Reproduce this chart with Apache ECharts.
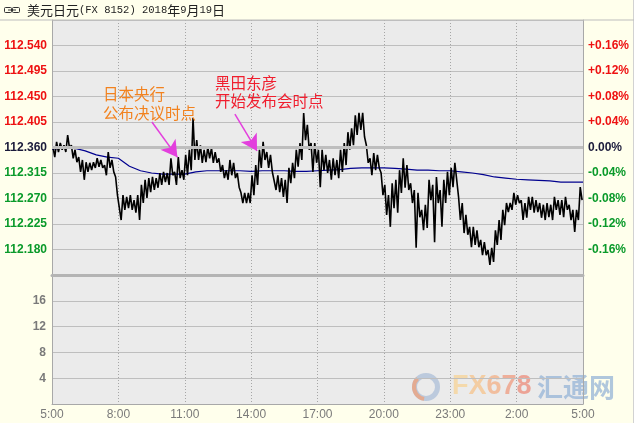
<!DOCTYPE html>
<html>
<head>
<meta charset="utf-8">
<script src="https://cdn.jsdelivr.net/npm/echarts@6/dist/echarts.min.js"></script>
<style>
html,body{margin:0;padding:0;background:#FFFFEC;}
#c{width:634px;height:423px;}
</style>
</head>
<body>
<div id="c"></div>
<script>
// ---- data (USD/JPY, 2018-09-19, 10-minute bins from 5:00) ----
const BASE_PRICE = 112.360;
const priceHigh = [
 112.361,112.370,112.368,112.364,112.382,112.364,112.356,112.343,112.338,112.334,
 112.333,112.334,112.341,112.338,112.329,112.352,112.338,112.308,112.276,112.276,
 112.273,112.276,112.267,112.276,112.294,112.303,112.306,112.308,112.306,112.315,
 112.317,112.315,112.341,112.317,112.343,112.320,112.347,112.356,112.412,112.373,
 112.364,112.356,112.361,112.359,112.352,112.341,112.329,112.320,112.338,112.333,
 112.315,112.280,112.280,112.280,112.311,112.329,112.356,112.370,112.352,112.347,
 112.317,112.311,112.306,112.303,112.324,112.333,112.356,112.368,112.421,112.400,
 112.368,112.368,112.356,112.356,112.347,112.338,112.341,112.338,112.356,112.368,
 112.387,112.394,112.417,112.421,112.421,112.364,112.341,112.350,112.347,112.315,
 112.294,112.276,112.297,112.303,112.320,112.341,112.329,112.297,112.285,112.280,
 112.250,112.259,112.303,112.294,112.308,112.285,112.303,112.317,112.324,112.333,
 112.273,112.262,112.241,112.220,112.220,112.214,112.197,112.193,112.179,112.183,
 112.214,112.232,112.250,112.262,112.262,112.280,112.276,112.267,112.262,112.273,
 112.273,112.267,112.262,112.259,112.262,112.259,112.273,112.267,112.267,112.273,
 112.259,112.250,112.250,112.290
];
const priceLow = [
 112.343,112.352,112.356,112.352,112.359,112.341,112.334,112.317,112.303,112.317,
 112.320,112.324,112.326,112.324,112.311,112.324,112.317,112.276,112.232,112.250,
 112.253,112.250,112.245,112.232,112.262,112.271,112.281,112.285,112.289,112.294,
 112.299,112.294,112.311,112.294,112.306,112.303,112.311,112.320,112.338,112.338,
 112.333,112.334,112.341,112.333,112.333,112.317,112.306,112.303,112.311,112.306,
 112.290,112.262,112.262,112.262,112.276,112.294,112.324,112.338,112.324,112.317,
 112.285,112.281,112.273,112.262,112.297,112.306,112.326,112.338,112.373,112.356,
 112.317,112.333,112.290,112.320,112.315,112.303,112.311,112.306,112.317,112.329,
 112.356,112.364,112.382,112.391,112.379,112.333,112.311,112.320,112.324,112.276,
 112.241,112.220,112.253,112.245,112.280,112.289,112.285,112.262,112.183,112.237,
 112.214,112.218,112.267,112.193,112.262,112.220,112.262,112.276,112.290,112.303,
 112.232,112.209,112.206,112.184,112.188,112.184,112.170,112.170,112.153,112.158,
 112.188,112.197,112.223,112.246,112.250,112.259,112.262,112.232,112.236,112.250,
 112.245,112.246,112.236,112.232,112.237,112.232,112.250,112.241,112.237,112.250,
 112.232,112.211,112.232,112.267
];
// average price every 30 minutes
const avgPrice = [
 112.357,112.359,112.359,112.354,112.347,112.343,112.341,112.327,112.319,112.315,
 112.313,112.313,112.313,112.317,112.319,112.319,112.319,112.319,112.318,112.319,
 112.319,112.319,112.318,112.318,112.319,112.320,112.321,112.323,112.324,112.324,
 112.324,112.323,112.322,112.320,112.320,112.319,112.319,112.317,112.315,112.312,
 112.308,112.306,112.304,112.303,112.302,112.301,112.299,112.299,112.299
];
const xTickLabels = ['5:00','8:00','11:00','14:00','17:00','20:00','23:00','2:00','5:00'];
const volumeTicks = [0,4,8,12,16,20];
const headerTitle = ['美元日元','(FX 8152) 2018','年','9','月','19','日'];
const noteBoj = '日本央行\n公布决议时点';
const noteKuroda = '黑田东彦\n开始发布会时点';
// annotation arrows: [startMinute, startPrice, endMinute, endPrice]
const arrowBoj = [271, 112.405, 340, 112.343];
const arrowKuroda = [496, 112.419, 556, 112.354];

// ---- helpers ----
const BIN = 10, AVG_STEP = 30;
const toAxis = p => Math.round((p - BASE_PRICE) * 1000);
const priceLine = [];
priceHigh.forEach((h, i) => {
  priceLine.push([i * BIN + 2.5, toAxis(h)]);
  priceLine.push([i * BIN + 7.5, toAxis(priceLow[i])]);
});
const avgLine = avgPrice.map((p, i) => [i * AVG_STEP, toAxis(p)]);

const RED = '#EE1111', GREEN = '#0A9A2A', DARK = '#1A1A3A';
const valColor = v => { v = Number(v); return v > 0 ? RED : (v < 0 ? GREEN : DARK); };
const LBL_FONT = 'Liberation Sans';

const chart = echarts.init(document.getElementById('c'), null, {renderer: 'canvas'});
const dotted = {show: true, lineStyle: {color: '#A6A6A6', type: [1, 2], width: 1}};
const wm = c => ({fontSize: 27, fontWeight: 'bold', fontFamily: LBL_FONT, fill: c});

const option = {
  backgroundColor: '#FFFFEC',
  animation: false,
  grid: [
    {left: 52, top: 20, width: 531, height: 255, show: true, backgroundColor: '#EBEBEB', borderWidth: 0},
    {left: 52, top: 275, width: 531, height: 129, show: true, backgroundColor: '#EBEBEB', borderWidth: 0}
  ],
  xAxis: [
    {gridIndex: 0, type: 'value', min: 0, max: 1440, interval: 180,
     axisLabel: {show: false}, axisTick: {show: false},
     axisLine: {show: true, onZero: false, lineStyle: {color: '#B4B4B4', width: 3}},
     splitLine: dotted},
    {gridIndex: 1, type: 'value', min: 0, max: 1440, interval: 180,
     axisTick: {show: false},
     axisLine: {show: true, onZero: false, lineStyle: {color: '#A8A8A8', width: 1}},
     axisLabel: {formatter: v => xTickLabels[Math.round(v / 180)], color: '#7A7A7A', fontSize: 12,
                 fontFamily: LBL_FONT, margin: 5, showMinLabel: true, showMaxLabel: true},
     splitLine: dotted}
  ],
  yAxis: [
    {gridIndex: 0, type: 'value', min: -225, max: 225, interval: 45, position: 'left',
     axisLine: {show: true, onZero: false, lineStyle: {color: '#A8A8A8'}}, axisTick: {show: false},
     axisLabel: {formatter: v => ((BASE_PRICE * 1000 + v) / 1000).toFixed(3), color: valColor,
                 fontWeight: 'bold', fontSize: 12, fontFamily: LBL_FONT, margin: 5,
                 showMinLabel: false, showMaxLabel: false},
     splitLine: {show: true, lineStyle: {color: '#BEBEBE', width: 1}}},
    {gridIndex: 0, type: 'value', min: -225, max: 225, interval: 45, position: 'right',
     axisLine: {show: true, onZero: false, lineStyle: {color: '#A8A8A8'}}, axisTick: {show: false},
     axisLabel: {formatter: v => {
                   const pct = (v / 1000) / BASE_PRICE * 100;
                   return v === 0 ? '0.00%' : (v > 0 ? '+' : '') + pct.toFixed(2) + '%';
                 }, color: valColor, fontWeight: 'bold', fontSize: 12, fontFamily: LBL_FONT, margin: 5,
                 showMinLabel: false, showMaxLabel: false},
     splitLine: {show: false}},
    {gridIndex: 1, type: 'value', min: volumeTicks[0], max: volumeTicks[volumeTicks.length - 1], interval: 4,
     position: 'left',
     axisLine: {show: true, onZero: false, lineStyle: {color: '#A8A8A8'}}, axisTick: {show: false},
     axisLabel: {color: '#7A7A7A', fontWeight: 'bold', fontSize: 12, fontFamily: LBL_FONT, margin: 6,
                 showMinLabel: false, showMaxLabel: false},
     splitLine: {show: true, lineStyle: {color: '#BEBEBE', width: 1}}},
    {gridIndex: 1, type: 'value', min: 0, max: 20, interval: 4, position: 'right',
     axisLine: {show: true, onZero: false, lineStyle: {color: '#A8A8A8'}}, axisTick: {show: false},
     axisLabel: {show: false}, splitLine: {show: false}}
  ],
  series: [
    {name: 'base', type: 'line', xAxisIndex: 0, yAxisIndex: 0, data: [], z: 1, silent: true,
     markLine: {silent: true, symbol: 'none', label: {show: false}, animation: false,
                lineStyle: {color: '#BEBEBE', width: 3, type: 'solid'},
                data: [{yAxis: 0}]}},
    {name: 'avg', type: 'line', xAxisIndex: 0, yAxisIndex: 0, data: avgLine, showSymbol: false,
     lineStyle: {color: '#00008F', width: 1.2}, z: 2, silent: true},
    {name: 'price', type: 'line', xAxisIndex: 0, yAxisIndex: 0, data: priceLine, showSymbol: false,
     lineStyle: {color: '#000000', width: 1.6}, z: 3, silent: true},
    {name: 'notes', type: 'line', xAxisIndex: 0, yAxisIndex: 0, data: [], z: 5, silent: true,
     markLine: {silent: true, symbol: ['none', 'arrow'], symbolSize: [14, 16], label: {show: false},
                lineStyle: {color: '#E33FDD', width: 1.5, type: 'solid'}, animation: false,
                data: [
                  [{coord: [arrowBoj[0], toAxis(arrowBoj[1])]}, {coord: [arrowBoj[2], toAxis(arrowBoj[3])]}],
                  [{coord: [arrowKuroda[0], toAxis(arrowKuroda[1])]}, {coord: [arrowKuroda[2], toAxis(arrowKuroda[3])]}]
                ]}},
    {name: 'volume', type: 'bar', xAxisIndex: 1, yAxisIndex: 2, data: []}
  ],
  graphic: [
    {type: 'line', shape: {x1: 0, y1: 20, x2: 634, y2: 20}, style: {stroke: '#BDBDBD', lineWidth: 1}, z: 10},
    {type: 'line', shape: {x1: 633.5, y1: 0, x2: 633.5, y2: 423}, style: {stroke: '#D2D2D2', lineWidth: 1}},
    // header link icon
    {type: 'rect', shape: {x: 4.5, y: 7.5, width: 7, height: 5, r: 1}, style: {fill: 'none', stroke: '#333', lineWidth: 1}},
    {type: 'rect', shape: {x: 12.5, y: 7.5, width: 7, height: 5, r: 1}, style: {fill: 'none', stroke: '#333', lineWidth: 1}},
    {type: 'line', shape: {x1: 8, y1: 10, x2: 16, y2: 10}, style: {stroke: '#333', lineWidth: 1}},
    {type: 'text', x: 27, y: 10, style: {
       text: '{c|' + headerTitle[0] + '}{a|' + headerTitle[1] + '}{c|' + headerTitle[2] + '}{a|' + headerTitle[3] +
             '}{c|' + headerTitle[4] + '}{a|' + headerTitle[5] + '}{c|' + headerTitle[6] + '}',
       verticalAlign: 'middle',
       rich: {
         c: {fontSize: 13, fontFamily: '"Noto Sans CJK SC"', fill: '#222'},
         a: {fontSize: 10.5, fontFamily: '"Liberation Mono"', fill: '#222'}
       }}},
    // annotations
    {type: 'text', x: 103, y: 85, z: 20, style: {text: noteBoj, fill: '#F2821E',
       font: '15.5px "Noto Sans CJK SC"', lineHeight: 19}},
    {type: 'text', x: 215, y: 74, z: 20, style: {text: noteKuroda, fill: '#F01E2E',
       font: '15.5px "Noto Sans CJK SC"', lineHeight: 18}},
    // watermark
    {type: 'group', z: 20, children: [
      {type: 'ring', shape: {cx: 426, cy: 387, r: 14, r0: 9}, style: {fill: 'rgba(150,175,210,0.55)'}},
      {type: 'arc', shape: {cx: 426, cy: 387, r: 12, startAngle: Math.PI * 0.55, endAngle: Math.PI * 1.25},
       style: {stroke: 'rgba(240,160,120,0.75)', lineWidth: 4, fill: 'none'}},
      {type: 'text', x: 452, y: 387, style: {
         text: '{f|F}{x|X}{s|6}{e|7}{g|8}', verticalAlign: 'middle',
         rich: {
           f: wm('rgba(246,214,160,0.85)'), x: wm('rgba(245,200,150,0.85)'), s: wm('rgba(242,182,145,0.85)'),
           e: wm('rgba(239,165,140,0.85)'), g: wm('rgba(236,150,135,0.85)')
         }}},
      {type: 'text', x: 537, y: 387, style: {text: '汇通网', verticalAlign: 'middle',
         font: 'bold 26px "Noto Sans CJK SC"', fill: 'rgba(150,180,215,0.75)'}}
    ]}
  ]
};
chart.setOption(option);
</script>
</body>
</html>
